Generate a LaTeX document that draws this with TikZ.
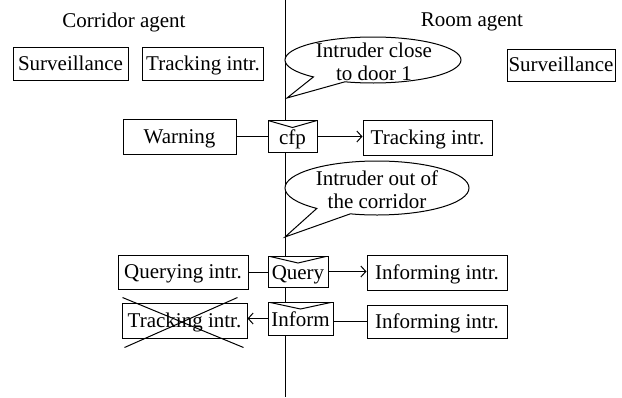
\documentclass[tikz,border=0pt]{standalone}
\usepackage{fontspec}
\setmainfont{Liberation Serif}
\usetikzlibrary{arrows.meta,shapes.callouts}
\begin{document}
\begin{tikzpicture}[x=1pt,y=-1pt,
  every node/.style={font=\fontsize{21}{23}\selectfont, inner sep=0pt},
  agentbox/.style={draw, line width=1pt, fill=white, minimum height=34pt,
    text height=15.5pt, text depth=2.5pt},
  envelope/.style={draw, line width=1pt, fill=white, minimum height=32pt,
    text height=16.5pt, text depth=1.5pt,
    path picture={\draw[line width=1pt] (path picture bounding box.north west)
      -- ([yshift=-7pt]path picture bounding box.north)
      -- (path picture bounding box.north east);}},
  bubble/.style={ellipse callout, draw, line width=1pt, fill=white, callout pointer arc=24},
  link/.style={line width=1pt},
  msg/.style={link, -{Straight Barb[length=5pt,width=11pt]}},
  cross/.style={line width=1pt}
]
\useasboundingbox (0,0) rectangle (622,397);

% lifeline separating the two agents
\coordinate (lifetop) at (285,0);
\coordinate (lifebot) at (285,397);
\draw[link] (lifetop) -- (lifebot);

% agent headings
\node (corr) at (124,22) {Corridor agent};
\node (room) at (472,22) {Room agent};

% initial behaviours
\node[agentbox, minimum width=115pt, minimum height=33pt] (survL) at (70.5,63.5) {Surveillance};
\node[agentbox, minimum width=121pt, minimum height=33pt] (trackL) at (203,63.5) {Tracking intr.};
\node[agentbox, minimum width=108pt, minimum height=32pt] (survR) at (561,65) {Surveillance};

% first event
\coordinate (tip1) at (287,98);
\node[bubble, minimum width=176pt, minimum height=46pt, callout absolute pointer={(tip1)}] (call1) at (373,60) {};
\node[align=center] (call1txt) at (374,62) {Intruder close\\to door 1};

% call for proposal
\node[agentbox, minimum width=113pt, minimum height=35pt] (warn) at (179.5,136.5) {Warning};
\node[envelope, minimum width=49pt] (cfp) at (292.5,136.5) {cfp};
\node[agentbox, minimum width=129pt, minimum height=35pt] (trackR) at (427.5,137.5) {Tracking intr.};
\draw[link] (warn.east) -- (warn.east -| cfp.west);
\draw[msg] (cfp.east) -- (cfp.east -| trackR.west);

% second event
\coordinate (tip2) at (285,237);
\node[bubble, minimum width=184pt, minimum height=54pt, callout absolute pointer={(tip2)}] (call2) at (377,188) {};
\node[align=center] (call2txt) at (377,190) {Intruder out of\\the corridor};

% query
\node[agentbox, minimum width=130pt, minimum height=34pt] (querying) at (183,272) {Querying intr.};
\node[envelope, minimum width=60pt, minimum height=31pt] (query) at (298,271.5) {Query};
\node[agentbox, minimum width=140pt, minimum height=35pt] (infoA) at (437,272.5) {Informing intr.};
\draw[link] (querying.east) -- (querying.east -| query.west);
\draw[msg] (query.east) -- (query.east -| infoA.west);

% inform
\node[agentbox, minimum width=125pt, minimum height=35pt] (trackX) at (184.5,320.5) {Tracking intr.};
\node[envelope, minimum width=65pt, minimum height=33pt] (inform) at (300.5,318.5) {Inform};
\node[agentbox, minimum width=140pt, minimum height=33pt] (infoB) at (437,321.5) {Informing intr.};
\draw[link] (infoB.west) -- (infoB.west -| inform.east);
\draw[msg] (inform.west) -- (inform.west -| trackX.east);

% terminated behaviour
\draw[cross] ([shift={(3,9)}]trackX.south west) -- ([shift={(-10,-5)}]trackX.north east);
\draw[cross] ([shift={(1,-5)}]trackX.north west) -- ([shift={(-4,9)}]trackX.south east);
\end{tikzpicture}
\end{document}
